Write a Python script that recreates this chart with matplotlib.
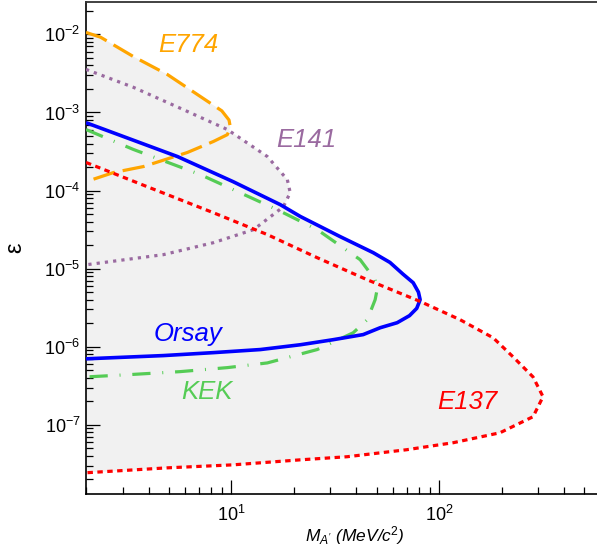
import numpy as np
import matplotlib
matplotlib.use("Agg")
import matplotlib.pyplot as plt
from matplotlib.ticker import LogLocator, LogFormatterMathtext, NullFormatter

plt.rcParams['font.family'] = ['Liberation Sans', 'DejaVu Sans']
plt.rcParams['mathtext.fontset'] = 'custom'
plt.rcParams['mathtext.rm'] = 'Liberation Sans'
plt.rcParams['mathtext.it'] = 'Liberation Sans:italic'

# exclusion contours: mass in MeV, epsilon
e774_m   = [2.0, 2.35, 3.38, 4.92, 7.1, 9.0, 9.75, 9.9, 9.57, 8.2, 6.14,
            3.78, 2.71, 2.0]
e774_eps = [1.06e-2, 9.2e-3, 5.2e-3, 3.07e-3, 1.6e-3, 1.05e-3, 8.0e-4,
            6.4e-4, 5.2e-4, 4.25e-4, 3.07e-4, 2.03e-4, 1.7e-4, 1.3e-4]

e141_m   = [2.0, 3.38, 5.87, 9.57, 14.9, 18.6, 19.2, 17.8, 12.8, 8.2, 4.71, 2.0]
e141_eps = [3.56e-3, 2.1e-3, 1.09e-3, 6.05e-4, 2.73e-4, 1.38e-4, 9.4e-5,
            6.2e-5, 3.16e-5, 2.15e-5, 1.51e-5, 1.12e-5]

orsay_m   = [2.0, 5.5, 10.2, 17.2, 21.5, 33.4, 48.2, 58, 67, 75, 79.5, 81,
             78, 72, 62.8, 52, 43.1, 30.9, 21.5, 13.8, 8.2, 4.71, 2.0]
orsay_eps = [7.4e-4, 2.73e-4, 1.3e-4, 6.6e-5, 4.65e-5, 2.57e-5, 1.6e-5,
             1.2e-5, 8.5e-6, 6.6e-6, 5.0e-6, 4.0e-6, 3.1e-6, 2.5e-6,
             2.03e-6, 1.75e-6, 1.43e-6, 1.23e-6, 1.06e-6, 9.2e-7, 8.4e-7,
             7.7e-7, 7.0e-7]

kek_m   = [2.0, 3.38, 7.1, 10.2, 16.6, 25.9, 41.7, 49.2, 50.3, 49.2, 45.1,
           38.6, 25.9, 14.9, 9.57, 5.69, 3.27, 2.0]
kek_eps = [6.05e-4, 3.36e-4, 1.6e-4, 1.03e-4, 5.7e-5, 3.16e-5, 1.3e-5,
           7.2e-6, 5.4e-6, 4.0e-6, 2.22e-6, 1.51e-6, 9.2e-7, 6.2e-7, 5.4e-7,
           4.8e-7, 4.4e-7, 4.1e-7]

e137_m   = [2.0, 3.94, 8.2, 14.9, 25.9, 45.1, 81, 126, 182, 227, 283, 316,
            283, 196, 117, 70, 36.1, 21.5, 10.2, 4.92, 2.0]
e137_eps = [2.29e-4, 1.12e-4, 5.2e-5, 2.73e-5, 1.38e-5, 7.2e-6, 3.8e-6,
            2.22e-6, 1.3e-6, 7.4e-7, 4.1e-7, 2.29e-7, 1.27e-7, 7.9e-8,
            5.9e-8, 4.8e-8, 3.9e-8, 3.56e-8, 3.07e-8, 2.81e-8, 2.43e-8]

fig = plt.figure(figsize=(5.97, 5.52), dpi=100)
ax = fig.add_axes([0.1441, 0.1051, 0.856, 0.8913])
ax.set_xscale('log'); ax.set_yscale('log')
ax.set_xlim(2, 575); ax.set_ylim(1.3e-8, 2.6e-2)

FILL = '#f1f1f1'
curves = [
    # (m, eps, colour, linewidth, dash pattern)
    (e774_m,  e774_eps,  '#ffa500', 2.3, (7, 2.5)),
    (e141_m,  e141_eps,  '#9a6aa0', 2.3, (1, 1.6)),
    (kek_m,   kek_eps,   '#55cc55', 2.3, (5.7, 3.7, 0.3, 3.7)),
    (orsay_m, orsay_eps, '#0000ff', 2.6, None),
    (e137_m,  e137_eps,  '#ff0000', 2.3, (1.7, 1.4)),
]
for m, e, *_ in curves:
    ax.fill(m, e, color=FILL, lw=0, zorder=1)
for m, e, col, lw, dash in curves:
    line, = ax.plot(m, e, color=col, lw=lw, zorder=3, solid_capstyle='butt',
                    dash_capstyle='butt')
    if dash is not None:
        line.set_dashes(dash)

lbl = dict(fontsize=18.5, style='italic', ha='center', va='center', zorder=4)
ax.text(6.2, 7.4e-3, 'E774', color='#ffa500', **lbl)
ax.text(22.9, 4.4e-4, 'E141', color='#9a6aa0', **lbl)
ax.text(6.2, 1.45e-6, 'Orsay', color='#0000ff', **lbl)
ax.text(7.6, 2.65e-7, 'KEK', color='#55cc55', **lbl)
ax.text(136, 1.97e-7, 'E137', color='#ff0000', **lbl)

ax.xaxis.set_major_locator(LogLocator(base=10))
ax.xaxis.set_minor_locator(LogLocator(base=10, subs=np.arange(2, 10)))
ax.xaxis.set_major_formatter(LogFormatterMathtext())
ax.xaxis.set_minor_formatter(NullFormatter())
ax.yaxis.set_major_locator(LogLocator(base=10))
ax.yaxis.set_minor_locator(LogLocator(base=10, subs=np.arange(2, 10)))
ax.yaxis.set_major_formatter(LogFormatterMathtext())
ax.yaxis.set_minor_formatter(NullFormatter())

ax.tick_params(which='both', direction='in', top=False, right=False,
               colors='black', labelsize=13)
ax.tick_params(which='major', length=10, width=0.9)
ax.tick_params(which='minor', length=5, width=0.9)
ax.tick_params(axis='x', pad=8)
ax.tick_params(axis='y', pad=4)

for s in ('left', 'bottom'):
    ax.spines[s].set_linewidth(1.2)
ax.spines['top'].set_linewidth(1.3)
ax.spines['top'].set_color('#333333')
ax.spines['right'].set_visible(False)

fig.text(15 / 597, 1 - 248 / 552, 'ε', rotation=90, fontsize=17,
         ha='center', va='center')
fig.text(405 / 597, 1 - 536 / 552, r"$M_{A'}$ (MeV/c$^{2}$)", style='italic',
         fontsize=12.5, ha='right', va='center')

fig.savefig('out.png', dpi=100)
